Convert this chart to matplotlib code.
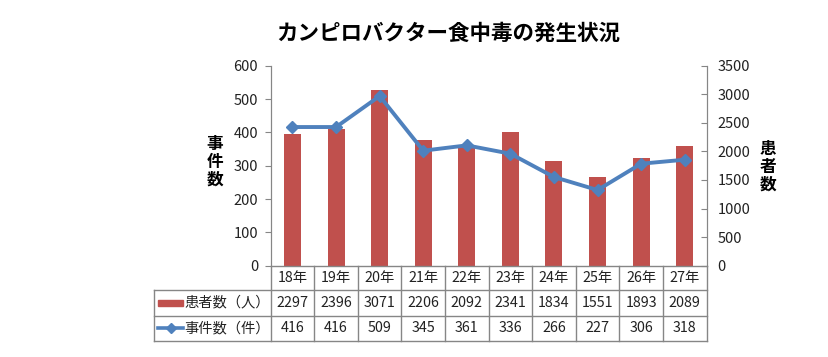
import matplotlib.pyplot as plt
import matplotlib.transforms as mtransforms

plt.rcParams['font.family'] = ['Noto Sans CJK JP', 'DejaVu Sans']

# data
years = ['18年', '19年', '20年', '21年', '22年', '23年', '24年', '25年', '26年', '27年']
patients = [2297, 2396, 3071, 2206, 2092, 2341, 1834, 1551, 1893, 2089]
incidents = [416, 416, 509, 345, 361, 336, 266, 227, 306, 318]
row_labels = ['患者数（人）', '事件数（件）']

bar_color = '#C0504D'
line_color = '#4F81BD'
grid_color = '#868686'

fig = plt.figure(figsize=(8.29, 3.57), dpi=100)
W, H = 829, 357
ax = fig.add_axes([270.7 / W, (H - 265.7) / H, 435.8 / W, 200 / H])
ax2 = ax.twinx()

x = list(range(len(years)))

# bars on right axis (患者数), line on left axis (事件数)
ax2.bar(x, patients, width=0.39, color=bar_color, zorder=1)
ax2.set_ylim(0, 3500)
ax2.set_yticks(range(0, 3501, 500))

ax.set_zorder(ax2.get_zorder() + 1)
ax.patch.set_visible(False)
ax.plot(x, incidents, color=line_color, lw=2.8, marker='D', markersize=6,
        zorder=3)
ax.set_ylim(0, 600)
ax.set_yticks(range(0, 601, 100))
ax.set_xlim(-0.5, len(years) - 0.5)
ax.set_xticks([])

for a in (ax, ax2):
    a.spines['top'].set_visible(False)
    a.spines['bottom'].set_visible(False)
    a.spines['left'].set_color(grid_color)
    a.spines['right'].set_color(grid_color)
    a.tick_params(axis='y', colors=grid_color, labelcolor='#222222',
                  labelsize=10.5, length=4)
ax.tick_params(axis='y', direction='out', pad=5)
ax2.tick_params(axis='y', direction='in', pad=8)

# title and axis labels
fig.text(448 / W, 1 - 33 / H, 'カンピロバクター食中毒の発生状況',
         ha='center', va='center', fontsize=15.5, fontweight='bold')
fig.text(215 / W, 1 - 162 / H, '事\n件\n数', ha='center', va='center',
         fontsize=12, fontweight='bold', linespacing=1.0)
fig.text(768 / W, 1 - 167 / H, '患\n者\n数', ha='center', va='center',
         fontsize=12, fontweight='bold', linespacing=1.0)

# data table under the plot
tr = mtransforms.blended_transform_factory(ax.transData, ax.transAxes)
col_w = 435.8 / len(years)
x_left = -0.5 - (270.7 - 154) / col_w
rows_y = [0, -24.3 / 200, -49.8 / 200, -75.3 / 200]
n = len(years)

def hline(x0, x1, y):
    ax.plot([x0, x1], [y, y], color=grid_color, lw=1, transform=tr,
            clip_on=False, zorder=5)

def vline(xv, y0, y1):
    ax.plot([xv, xv], [y0, y1], color=grid_color, lw=1, transform=tr,
            clip_on=False, zorder=5)

hline(-0.5, n - 0.5, rows_y[0])
for y in rows_y[1:]:
    hline(x_left, n - 0.5, y)
for i in range(n + 1):
    vline(i - 0.5, rows_y[0], rows_y[3])
vline(x_left, rows_y[1], rows_y[3])

tfs = 10.3
for i, yr in enumerate(years):
    ymid = (rows_y[0] + rows_y[1]) / 2
    ax.text(i, ymid, yr, transform=tr, ha='center', va='center',
            fontsize=tfs, color='#222222')
    ymid = (rows_y[1] + rows_y[2]) / 2
    ax.text(i, ymid, str(patients[i]), transform=tr, ha='center',
            va='center', fontsize=tfs, color='#222222')
    ymid = (rows_y[2] + rows_y[3]) / 2
    ax.text(i, ymid, str(incidents[i]), transform=tr, ha='center',
            va='center', fontsize=tfs, color='#222222')

# legend keys inside table
key_x0 = x_left + 4 / col_w
key_x1 = x_left + 29 / col_w
ymid = (rows_y[1] + rows_y[2]) / 2
ax.add_patch(plt.Rectangle((key_x0, ymid - 3 / 200), key_x1 - key_x0, 6 / 200,
                           color=bar_color, transform=tr, clip_on=False))
ax.text(key_x1 + 1 / col_w, ymid, row_labels[0], transform=tr, ha='left',
        va='center', fontsize=tfs, color='#222222')
ymid = (rows_y[2] + rows_y[3]) / 2
ax.plot([key_x0, key_x1], [ymid, ymid], color=line_color, lw=2.6,
        transform=tr, clip_on=False)
ax.plot([(key_x0 + key_x1) / 2], [ymid], color=line_color, marker='D',
        markersize=5, transform=tr, clip_on=False)
ax.text(key_x1 + 1 / col_w, ymid, row_labels[1], transform=tr, ha='left',
        va='center', fontsize=tfs, color='#222222')

fig.savefig('out.png', dpi=100)
